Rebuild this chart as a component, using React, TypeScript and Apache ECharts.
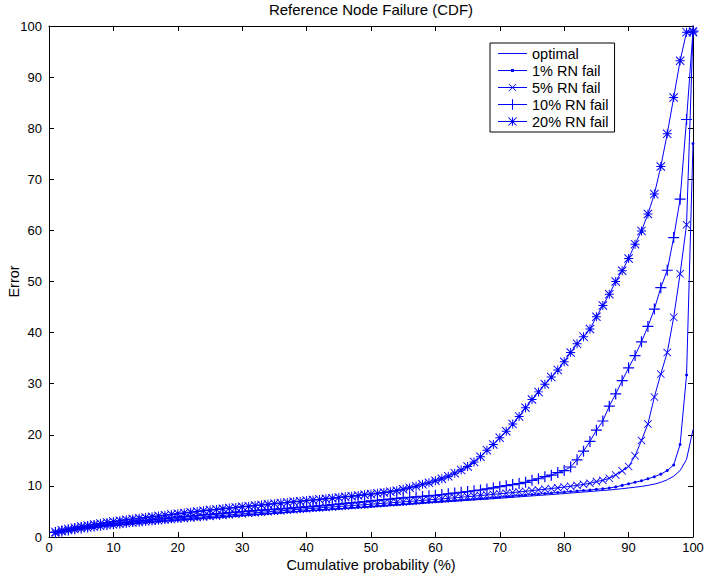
import React, { useEffect, useRef } from "react";
import * as echarts from "echarts";

// Cumulative probability (%) of each sample point
const percentiles = Array.from({ length: 100 }, (_, i) => i + 1);

const optimal = [
  0.7, 0.95, 1.15, 1.35, 1.5, 1.65, 1.8, 1.95, 2.1, 2.2,
  2.32, 2.44, 2.55, 2.66, 2.77, 2.88, 2.98, 3.08, 3.18, 3.28,
  3.37, 3.46, 3.55, 3.64, 3.73, 3.82, 3.91, 4.0, 4.09, 4.18,
  4.27, 4.36, 4.45, 4.54, 4.63, 4.72, 4.81, 4.9, 4.99, 5.08,
  5.16, 5.24, 5.32, 5.4, 5.48, 5.56, 5.64, 5.72, 5.8, 5.88,
  5.96, 6.05, 6.14, 6.23, 6.32, 6.41, 6.5, 6.59, 6.68, 6.77,
  6.85, 6.93, 7.01, 7.09, 7.17, 7.25, 7.33, 7.41, 7.5, 7.59,
  7.68, 7.77, 7.86, 7.95, 8.04, 8.13, 8.22, 8.31, 8.4, 8.5,
  8.6, 8.7, 8.8, 8.9, 9.0, 9.1, 9.2, 9.32, 9.45, 9.6,
  9.75, 9.9, 10.1, 10.35, 10.7, 11.2, 11.9, 13.0, 15.2, 21.0,
];

const fail1 = [
  0.75, 1.0, 1.2, 1.4, 1.55, 1.7, 1.85, 2.0, 2.15, 2.27,
  2.39, 2.51, 2.62, 2.73, 2.84, 2.95, 3.05, 3.15, 3.25, 3.35,
  3.44, 3.53, 3.62, 3.71, 3.8, 3.89, 3.98, 4.07, 4.16, 4.25,
  4.34, 4.43, 4.52, 4.61, 4.7, 4.79, 4.88, 4.97, 5.06, 5.15,
  5.23, 5.31, 5.39, 5.47, 5.55, 5.63, 5.71, 5.8, 5.89, 5.98,
  6.07, 6.16, 6.25, 6.34, 6.43, 6.52, 6.61, 6.7, 6.79, 6.88,
  6.97, 7.06, 7.15, 7.24, 7.33, 7.42, 7.51, 7.6, 7.7, 7.8,
  7.9, 8.0, 8.1, 8.2, 8.3, 8.4, 8.5, 8.6, 8.7, 8.8,
  8.9, 9.0, 9.1, 9.2, 9.32, 9.45, 9.6, 9.8, 10.1, 10.4,
  10.7, 11.0, 11.4, 11.8, 12.3, 13.0, 14.1, 18.1, 31.7, 77.0,
];

const fail5 = [
  0.8, 1.05, 1.25, 1.45, 1.62, 1.78, 1.94, 2.1, 2.25, 2.38,
  2.5, 2.62, 2.74, 2.86, 2.98, 3.09, 3.2, 3.31, 3.42, 3.53,
  3.63, 3.73, 3.83, 3.93, 4.03, 4.13, 4.23, 4.33, 4.43, 4.53,
  4.63, 4.73, 4.83, 4.93, 5.03, 5.13, 5.23, 5.33, 5.43, 5.52,
  5.61, 5.7, 5.79, 5.88, 5.97, 6.06, 6.15, 6.24, 6.33, 6.42,
  6.51, 6.6, 6.69, 6.78, 6.87, 6.97, 7.07, 7.17, 7.27, 7.37,
  7.47, 7.57, 7.67, 7.78, 7.89, 8.0, 8.11, 8.22, 8.34, 8.46,
  8.58, 8.7, 8.82, 8.95, 9.08, 9.21, 9.35, 9.49, 9.63, 9.78,
  9.93, 10.1, 10.3, 10.5, 10.85, 11.1, 11.5, 12.15, 12.95, 13.8,
  15.9, 18.9, 22.1, 27.4, 31.9, 36.1, 43.0, 51.5, 61.1, 99.0,
];

const fail10 = [
  0.9, 1.15, 1.38, 1.6, 1.78, 1.96, 2.13, 2.3, 2.46, 2.6,
  2.74, 2.88, 3.01, 3.14, 3.27, 3.4, 3.52, 3.64, 3.76, 3.88,
  3.99, 4.1, 4.21, 4.32, 4.43, 4.54, 4.65, 4.76, 4.87, 4.98,
  5.07, 5.16, 5.25, 5.34, 5.43, 5.52, 5.61, 5.7, 5.8, 5.9,
  6.0, 6.1, 6.2, 6.32, 6.44, 6.56, 6.68, 6.8, 6.92, 7.05,
  7.18, 7.3, 7.42, 7.54, 7.65, 7.75, 7.85, 7.95, 8.05, 8.15,
  8.3, 8.45, 8.6, 8.75, 8.9, 9.05, 9.2, 9.4, 9.6, 9.85,
  10.05, 10.25, 10.45, 10.7, 11.1, 11.4, 11.8, 12.1, 12.6, 13.0,
  13.7, 15.1, 16.8, 18.7, 20.9, 22.7, 25.6, 28.0, 30.6, 33.1,
  35.5, 38.2, 41.2, 44.6, 48.8, 52.2, 58.6, 66.1, 81.7, 99.0,
];

const fail20 = [
  1.0, 1.3, 1.58, 1.83, 2.05, 2.25, 2.45, 2.65, 2.85, 3.03,
  3.2, 3.36, 3.52, 3.67, 3.82, 3.97, 4.12, 4.27, 4.42, 4.57,
  4.71, 4.85, 4.99, 5.13, 5.27, 5.4, 5.53, 5.66, 5.79, 5.92,
  6.04, 6.16, 6.28, 6.4, 6.52, 6.64, 6.76, 6.88, 7.0, 7.12,
  7.24, 7.36, 7.48, 7.6, 7.73, 7.86, 7.99, 8.12, 8.26, 8.4,
  8.55, 8.7, 8.87, 9.05, 9.35, 9.65, 9.95, 10.3, 10.6, 11.0,
  11.4, 11.9, 12.5, 13.1, 13.8, 14.7, 15.7, 17.0, 18.1, 19.4,
  20.7, 22.1, 23.6, 25.3, 26.9, 28.4, 29.9, 31.3, 32.7, 34.3,
  36.1, 37.8, 39.2, 40.7, 43.1, 45.3, 47.5, 50.0, 52.1, 54.5,
  57.3, 59.9, 63.2, 67.1, 72.5, 78.9, 86.0, 93.2, 98.8, 98.8,
];

const seriesNames = ["optimal", "1% RN fail", "5% RN fail", "10% RN fail", "20% RN fail"];
const seriesValues = [optimal, fail1, fail5, fail10, fail20];
const xTickLabels = ["0", "10", "20", "30", "40", "50", "60", "70", "80", "90", "100"];
const yTickLabels = ["0", "10", "20", "30", "40", "50", "60", "70", "80", "90", "100"];

// marker shapes (filled thin outlines, 10x10 box)
const PLUS = "M4.45,0H5.55V4.45H10V5.55H5.55V10H4.45V5.55H0V4.45H4.45Z";
const CROSS = "M0,0.75L0.75,0L5,4.25L9.25,0L10,0.75L5.75,5L10,9.25L9.25,10L5,5.75L0.75,10L0,9.25L4.25,5Z";

// legend icons: line sample with marker, drawn in pixel units (30 wide)
const LEGEND_ICONS = [
  "path://M0,0H30V1H0Z",
  "path://M0,1.5H30V2.5H0Z M13.5,0.5H16.5V3.5H13.5Z",
  "path://M0,3.5H30V4.5H0Z M11,0.6L11.6,0L15,3.4L18.4,0L19,0.6L15.6,4L19,7.4L18.4,8L15,4.6L11.6,8L11,7.4L14.4,4Z",
  "path://M0,5H30V6H0Z M14.45,0H15.55V11H14.45Z",
  "path://M0,4H30V5H0Z M14.5,0H15.5V9H14.5Z M10.5,0.68L11.18,0L15,3.82L18.82,0L19.5,0.68L15.68,4.5L19.5,8.32L18.82,9L15,5.18L11.18,9L10.5,8.32L14.32,4.5Z",
];

const BLUE = "#0000ff";
const FONT = "'Liberation Sans', Arial, Helvetica, sans-serif";

export default function App() {
  const ref = useRef<HTMLDivElement>(null);
  useEffect(() => {
    if (!ref.current) return;
    const chart = echarts.init(ref.current, undefined, { renderer: "svg" });
    const markers: any[] = [
      { symbol: "none", size: 0 },
      { symbol: "circle", size: 3 },
      { symbol: "path://" + CROSS, size: 8 },
      { symbol: "path://" + PLUS, size: 11 },
      { symbol: "path://" + PLUS + CROSS, size: 9 },
    ];
    const series = seriesNames.map((name, i) => ({
      name,
      type: "line",
      data: percentiles.map((p, j) => [p, seriesValues[i][j]]),
      symbol: markers[i].symbol,
      symbolSize: markers[i].size,
      showSymbol: i > 0,
      clip: false,
      lineStyle: { color: BLUE, width: 1 },
      itemStyle: { color: BLUE },
      emphasis: { disabled: true },
      z: 2 + i,
    }));
    const axisCommon = {
      type: "value",
      min: 0,
      max: 100,
      interval: 10,
      splitLine: { show: false },
      axisLine: { show: true, onZero: false, lineStyle: { color: "#000", width: 1 } },
      axisTick: { show: true, inside: true, length: 5, lineStyle: { color: "#000" } },
    };
    chart.setOption({
      animation: false,
      backgroundColor: "#fff",
      title: {
        text: "Reference Node Failure (CDF)",
        left: 371,
        top: 0,
        padding: [2, 0, 0, 0],
        textAlign: "center",
        textStyle: { fontSize: 15, fontWeight: "normal", color: "#000", fontFamily: FONT },
      },
      legend: {
        orient: "vertical",
        left: 490,
        top: 43,
        padding: [3, 6, 3, 8],
        itemWidth: 29,
        itemHeight: 12,
        itemGap: 2,
        backgroundColor: "#fff",
        borderColor: "#000",
        borderWidth: 1,
        borderRadius: 0,
        textStyle: { fontSize: 14.5, lineHeight: 15, color: "#000", fontFamily: FONT },
        data: seriesNames.map((name, i) => ({ name, icon: LEGEND_ICONS[i] })),
      },
      grid: { left: 49, right: 13, top: 26, bottom: 42, containLabel: false, outerBoundsMode: "none" },
      xAxis: [
        {
          ...axisCommon,
          position: "bottom",
          name: "Cumulative probability (%)",
          nameLocation: "middle",
          nameGap: 20,
          nameMoveOverlap: false,
          nameTextStyle: { fontSize: 14.5, color: "#000", fontFamily: FONT },
          axisLabel: {
            color: "#000",
            fontSize: 13,
            fontFamily: FONT,
            margin: 4,
            formatter: (v: number) => xTickLabels[Math.round(v / 10)],
          },
        },
        { ...axisCommon, position: "top", axisLabel: { show: false } },
      ],
      yAxis: [
        {
          ...axisCommon,
          position: "left",
          name: "Error",
          nameLocation: "middle",
          nameGap: 28,
          nameMoveOverlap: false,
          nameTextStyle: { fontSize: 14.5, color: "#000", fontFamily: FONT },
          axisLabel: {
            color: "#000",
            fontSize: 13,
            fontFamily: FONT,
            margin: 7,
            formatter: (v: number) => yTickLabels[Math.round(v / 10)],
          },
        },
        { ...axisCommon, position: "right", axisLabel: { show: false } },
      ],
      series,
    });
    return () => chart.dispose();
  }, []);
  return <div ref={ref} style={{ width: 706, height: 579, position: "absolute", left: 0, top: 0 }} />;
}
